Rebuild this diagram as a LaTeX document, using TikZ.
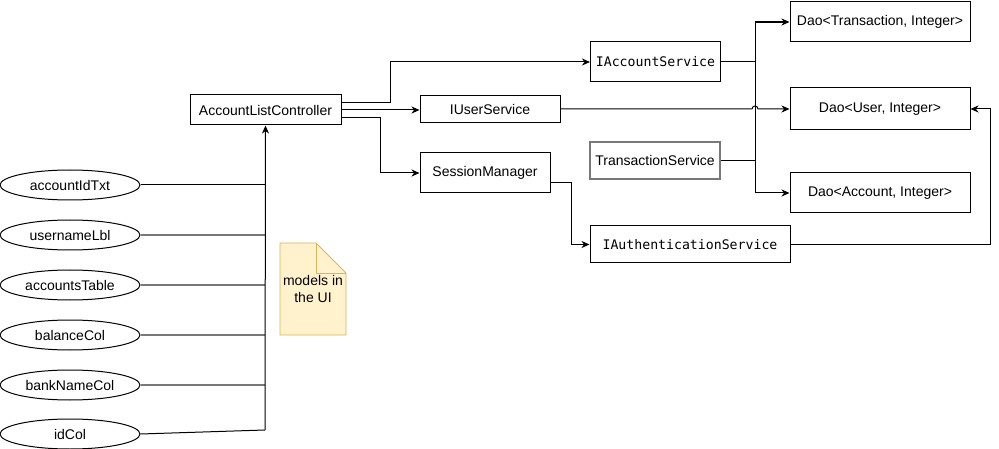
\documentclass[tikz,border=0pt]{standalone}
\usepackage{fontspec}
\setmainfont{Liberation Sans}
\newfontfamily\monofont{DejaVu Sans Mono}
\usetikzlibrary{arrows.meta,shapes.geometric}
\begin{document}
\begin{tikzpicture}[x=1pt,y=-1pt,
  line width=1pt,
  box/.style={draw=black, rectangle, inner sep=0pt, font=\fontsize{14}{16}\selectfont},
  mono/.style={font=\monofont\fontsize{13.2}{15}\selectfont},
  graybox/.style={draw={rgb,255:red,120;green,120;blue,120}, line width=1.3pt},
  field/.style={draw=black, ellipse, minimum width=140pt, minimum height=30pt, inner sep=0pt, font=\fontsize{14}{16}\selectfont},
  conn/.style={draw=black, line width=1pt},
  gconn/.style={draw={rgb,255:red,120;green,120;blue,120}, line width=1.3pt},
  arr/.style={-{Stealth[length=8pt,width=7pt,inset=2.5pt]}},
]
\useasboundingbox (0,0) rectangle (999,449);

% boxes
\node[box, minimum width=151pt, minimum height=30pt] (alc) at (265.5,110) {AccountListController};
\node[box, minimum width=140pt, minimum height=27pt] (ius) at (490,109) {IUserService};
\node[box, minimum width=130pt, minimum height=40pt] (sm) at (485,173) {SessionManager};
\node[box, mono, minimum width=130pt, minimum height=40pt] (ias) at (655.5,62) {IAccountService};
\node[box, graybox, minimum width=130pt, minimum height=37pt] (ts) at (655,160.5) {TransactionService};
\node[box, mono, minimum width=200pt, minimum height=37pt] (iauth) at (690,244.5) {IAuthenticationService};
\node[box, minimum width=180pt, minimum height=40pt] (dt) at (880,22) {Dao<Transaction, Integer>};
\node[box, minimum width=180pt, minimum height=42pt] (du) at (880,109) {Dao<User, Integer>};
\node[box, minimum width=180pt, minimum height=40pt] (da) at (880,193) {Dao<Account, Integer>};

% fields
\node[field] (f1) at (70,185) {accountIdTxt};
\node[field] (f2) at (70,235) {usernameLbl};
\node[field] (f3) at (70,285) {accountsTable};
\node[field] (f4) at (70,335) {balanceCol};
\node[field] (f5) at (70,385) {bankNameCol};
\node[field] (f6) at (70,434) {idCol};

% note
\path[fill={rgb,255:red,255;green,242;blue,204}, draw={rgb,255:red,214;green,182;blue,86}, line width=0.8pt]
  (280,243) -- (316,243) -- (346,273) -- (346,335) -- (280,335) -- cycle;
\draw[draw={rgb,255:red,214;green,182;blue,86}, line width=0.8pt] (316,243) -- (316,273) -- (346,273);
\node[align=center, font=\fontsize{14}{17}\selectfont, inner sep=0pt] (note) at (313,289) {models in\\the UI};

% field connectors
\coordinate (bus) at (265,430);
\draw[conn] (f1.east) -- (265,185);
\draw[gconn] (f2.east) -- (265,235);
\draw[gconn] (f3.east) -- (265,285);
\draw[gconn] (f4.east) -- (265,335);
\draw[gconn] (f5.east) -- (265,385);
\draw[conn] (f6.east) -- (bus);
\draw[conn, arr] (bus) -- (alc.south);

% controller connectors
\draw[conn, arr] (alc.east |- 0,103) -- (390,103) -- (390,62) -- (ias.west);
\draw[conn, arr] (alc.east |- 0,110) -- (ius.west |- 0,110);
\draw[conn, arr] (alc.east |- 0,118) -- (380,118) -- (380,173) -- (sm.west);

% service to dao connectors
\coordinate (jt) at (755,22);
\draw[conn] (ias.east) -- (755,62);
\draw[conn] (ts.east) -- (755,160.5);
\draw[conn] (755,62) -- (jt);
\draw[conn, arr, line width=1.7pt] (jt) -- (dt.west);
\draw[conn, arr] (755,62) -- (755,193) -- (da.west);
\draw[conn, arr] (ius.east) -- (752,109) arc[start angle=180, end angle=0, radius=3pt] -- (du.west);

% session manager -> auth
\draw[conn, arr] (sm.east |- 0,183) -- (571,183) -- (571,244.5) -- (iauth.west);
% auth -> dao user
\draw[conn, arr] (iauth.east) -- (990,244.5) -- (990,109) -- (du.east);
\end{tikzpicture}
\end{document}
